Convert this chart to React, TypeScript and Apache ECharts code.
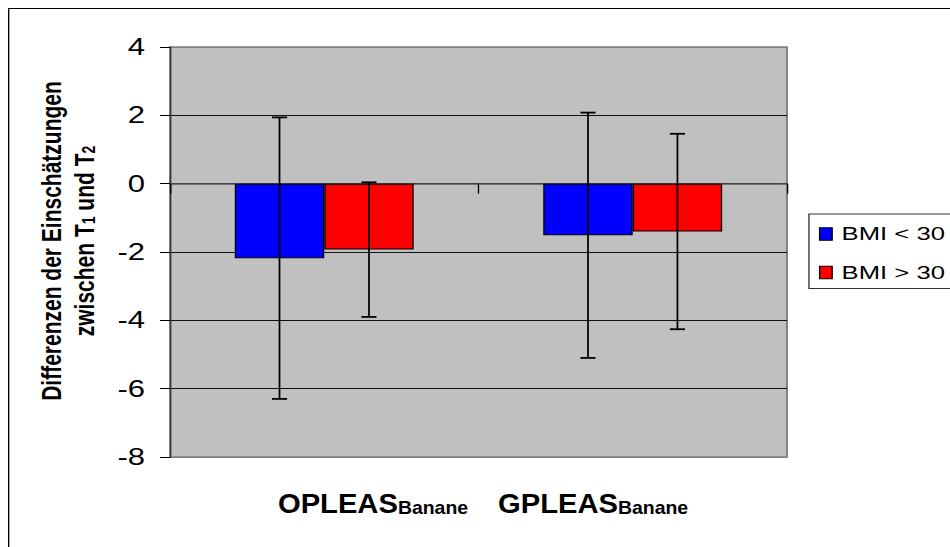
import React, { useEffect, useRef } from "react";
import * as echarts from "echarts";

// ---- data ----
const categories = ["OPLEAS_Banane", "GPLEAS_Banane"];
const categoryMain = ["OPLEAS", "GPLEAS"];
const categorySub = ["Banane", "Banane"];
const seriesNames = ["BMI < 30", "BMI > 30"];
const bmiUnder30 = [-2.18, -1.51];
const bmiOver30 = [-1.93, -1.4];
const errUnder30 = [4.12, 3.59];
const errOver30 = [1.97, 2.86];
const yTicks = { min: -8, max: 4, interval: 2 };

const SX = 1.35; // horizontal stretch of the reference
const CW = 720;
const CH = 560;
const CAT_GAP = 0.42;

export default function App() {
  const ref = useRef<HTMLDivElement>(null);
  useEffect(() => {
    if (!ref.current) return;
    const chart = echarts.init(ref.current, undefined, { renderer: "svg" });
    const font = '"Liberation Sans", Arial, sans-serif';

    const errData: number[][] = [];
    categories.forEach((_, i) => {
      errData.push([i, bmiUnder30[i], errUnder30[i], -1]);
      errData.push([i, bmiOver30[i], errOver30[i], 1]);
    });

    const gridLeft = 120;
    const gridTop = 39;
    const gridRight = CW - 577;
    const gridBottom = CH - 449;

    chart.setOption({
      animation: false,
      textStyle: { fontFamily: font, color: "#000" },
      grid: {
        left: gridLeft,
        top: gridTop,
        right: gridRight,
        bottom: gridBottom,
        show: true,
        backgroundColor: "#C0C0C0",
        borderColor: "#808080",
        borderWidth: 1.5,
      },
      legend: {
        orient: "vertical",
        left: 593.3,
        top: 206,
        data: seriesNames,
        icon: "rect",
        itemWidth: 9.3,
        itemHeight: 12.5,
        itemGap: 19.5,
        padding: [10.5, 8, 6.5, 7.4],
        backgroundColor: "#fff",
        borderColor: "#333",
        borderWidth: 1,
        borderRadius: 0,
        textStyle: { fontFamily: font, fontSize: 19, color: "#000", padding: [0, 0, 0, 2] },
        itemStyle: { borderColor: "#000", borderWidth: 1 },
      },
      xAxis: {
        type: "category",
        data: categories,
        axisLine: { onZero: true, lineStyle: { color: "#555", width: 1.5 } },
        axisTick: { show: true, length: 10, lineStyle: { color: "#000", width: 1 } },
        axisLabel: { show: false },
        splitLine: { show: false },
      },
      yAxis: {
        type: "value",
        min: yTicks.min,
        max: yTicks.max,
        interval: yTicks.interval,
        axisLine: { show: true, lineStyle: { color: "#333", width: 1 } },
        axisTick: { show: true, length: 7.4, lineStyle: { color: "#000" } },
        axisLabel: { fontSize: 23, color: "#000", fontFamily: font, margin: 18.5 },
        splitLine: {
          show: true,
          lineStyle: {
            color: ["#808080", "#111", "#111", "#111", "#111", "#111", "#808080"],
            width: 1,
          },
        },
      },
      series: [
        {
          name: seriesNames[0],
          type: "bar",
          data: bmiUnder30,
          barGap: "0%",
          barCategoryGap: CAT_GAP * 100 + "%",
          itemStyle: { color: "#0000FF", borderColor: "#000", borderWidth: 1 },
        },
        {
          name: seriesNames[1],
          type: "bar",
          data: bmiOver30,
          barGap: "0%",
          barCategoryGap: CAT_GAP * 100 + "%",
          itemStyle: { color: "#FF0000", borderColor: "#000", borderWidth: 1 },
        },
        {
          type: "custom",
          z: 5,
          silent: true,
          data: errData,
          renderItem: (params: any, api: any) => {
            const ci = api.value(0);
            const m = api.value(1);
            const e = api.value(2);
            const side = api.value(3);
            const band = api.size([1, 0])[0];
            const bw = (band * (1 - CAT_GAP)) / 2;
            const c = api.coord([ci, m]);
            const x = c[0] + (side * bw) / 2;
            const yTop = api.coord([ci, m + e])[1];
            const yBot = api.coord([ci, m - e])[1];
            const cap = 5.6;
            const st = { stroke: "#000", lineWidth: 1.3 };
            return {
              type: "group",
              children: [
                { type: "line", shape: { x1: x, y1: yTop, x2: x, y2: yBot }, style: st },
                { type: "line", shape: { x1: x - cap, y1: yTop, x2: x + cap, y2: yTop }, style: { stroke: "#000", lineWidth: 1.8 } },
                { type: "line", shape: { x1: x - cap, y1: yBot, x2: x + cap, y2: yBot }, style: { stroke: "#000", lineWidth: 1.8 } },
              ],
            };
          },
        },
      ],
      graphic: [
        {
          type: "rect",
          silent: true,
          shape: { x: 0.5, y: 0.5, width: CW - 1, height: CH - 1 },
          style: { fill: "none", stroke: "#000", lineWidth: 1 },
          z: 100,
        },
        {
          type: "text",
          x: 42.5,
          y: 233,
          rotation: Math.PI / 2,
          style: {
            text: "{a|Differenzen der Einschätzungen}\n{a|zwischen T}{s|1}{a| und T}{s|2}",
            align: "center",
            verticalAlign: "middle",
            rich: {
              a: { fontFamily: font, fontSize: 21, fontWeight: "bold", lineHeight: 24, verticalAlign: "bottom", fill: "#000" },
              s: { fontFamily: font, fontSize: 14, fontWeight: "bold", lineHeight: 14, verticalAlign: "bottom", fill: "#000" },
            },
          },
        },
        ...categoryMain.map((t, i) => ({
          type: "text",
          x: i === 0 ? 200 : 363,
          y: 509,
          scaleX: 0.8,
          style: {
            text: `{b|${t}}{s|${categorySub[i]}}`,
            align: "left",
            verticalAlign: "bottom",
            rich: {
              b: { fontFamily: font, fontSize: 27, fontWeight: "bold", lineHeight: 27, verticalAlign: "bottom", fill: "#000" },
              s: { fontFamily: font, fontSize: 18, fontWeight: "bold", lineHeight: 16, verticalAlign: "bottom", fill: "#000" },
            },
          },
        })),
      ],
    });
    return () => chart.dispose();
  }, []);

  return (
    <div style={{ position: "fixed", left: 8, top: 8, width: 942, height: 539, overflow: "hidden", background: "#fff" }}>
      <div
        ref={ref}
        style={{ width: CW, height: CH, transform: `scaleX(${SX})`, transformOrigin: "0 0" }}
      />
    </div>
  );
}
